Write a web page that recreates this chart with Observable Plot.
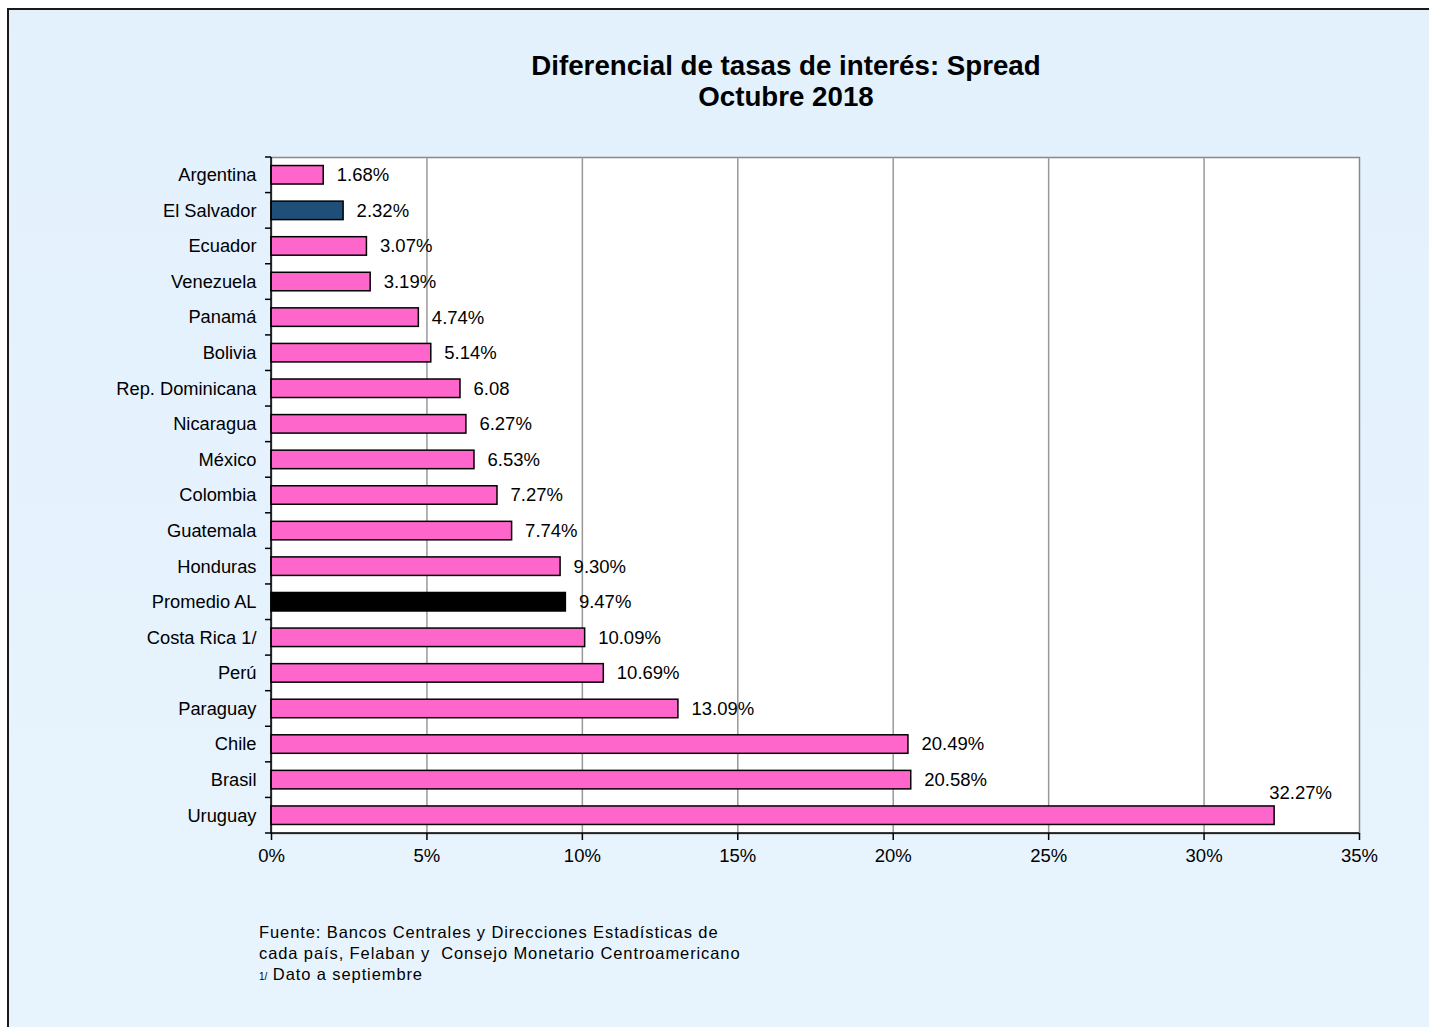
<!DOCTYPE html>
<html>
<head>
<meta charset="utf-8">
<script src="https://cdn.jsdelivr.net/npm/d3@7"></script>
<script src="https://cdn.jsdelivr.net/npm/@observablehq/plot@0.6"></script>
<style>
  html, body { margin: 0; padding: 0; }
  body { width: 1429px; height: 1027px; overflow: hidden; font-family: "Liberation Sans", Arial, sans-serif; }
  #page { position: relative; width: 1429px; height: 1027px; background: #ffffff; }
  #panel { position: absolute; left: 7px; top: 8px; width: 1440px; height: 1040px;
    border-left: 2px solid #1a1a1a; border-top: 2px solid #1a1a1a;
    background: linear-gradient(180deg, #e3f1fd 0%, #e6f3fd 60%, #e8f4fd 100%); }
  #title { position: absolute; left: 436px; width: 700px; top: 50px; text-align: center;
    font-weight: bold; font-size: 27.7px; line-height: 31px; color: #000; }
  #chart { position: absolute; left: 0; top: 140px; }
  #foot { position: absolute; left: 259px; top: 922px; font-size: 16.5px; letter-spacing: 0.9px; line-height: 21px; color: #000; }
  #foot .sm { font-size: 10px; letter-spacing: 0; }
</style>
</head>
<body>
<div id="page">
  <div id="panel"></div>
  <div id="title">Diferencial de tasas de interés: Spread<br>Octubre 2018</div>
  <div id="chart"></div>
  <div id="foot">Fuente: Bancos Centrales y Direcciones Estadísticas de<br>cada país, Felaban y&nbsp; Consejo Monetario Centroamericano<br><span class="sm">1/</span> Dato a septiembre</div>
</div>
<script>
const paises = ["Argentina","El Salvador","Ecuador","Venezuela","Panamá","Bolivia","Rep. Dominicana","Nicaragua","México","Colombia","Guatemala","Honduras","Promedio AL","Costa Rica 1/","Perú","Paraguay","Chile","Brasil","Uruguay"];
const spread = [1.68,2.32,3.07,3.19,4.74,5.14,6.08,6.27,6.53,7.27,7.74,9.30,9.47,10.09,10.69,13.09,20.49,20.58,32.27];
const etiquetas = ["1.68%","2.32%","3.07%","3.19%","4.74%","5.14%","6.08","6.27%","6.53%","7.27%","7.74%","9.30%","9.47%","10.09%","10.69%","13.09%","20.49%","20.58%","32.27%"];
const xTicks = [0,5,10,15,20,25,30,35];

const data = paises.map((p, i) => ({pais: p, valor: spread[i], etiqueta: etiquetas[i]}));
const fillFor = d => d.pais === "El Salvador" ? "#1f4e78" : d.pais === "Promedio AL" ? "#000000" : "#ff66cc";

// category ticks between bands + axis lines
function axisLines(index, scales, values, dims) {
  const y = scales.y, x = scales.x;
  const g = d3.create("svg:g").attr("stroke", "#000").attr("stroke-width", 1.5);
  const x0 = x(0);
  const top = dims.marginTop, bottom = dims.height - dims.marginBottom;
  const right = dims.width - dims.marginRight;
  g.append("line").attr("x1", x0).attr("x2", x0).attr("y1", top).attr("y2", bottom);
  g.append("line").attr("x1", x0).attr("x2", right).attr("y1", bottom).attr("y2", bottom);
  const ys = paises.map(p => y(p));
  const step = ys.length > 1 ? ys[1] - ys[0] : 0;
  const pad = (step - y.bandwidth()) / 2;
  const bounds = ys.map(v => v - pad).concat([ys[ys.length - 1] - pad + step]);
  for (const b of bounds) {
    g.append("line").attr("x1", x0 - 6).attr("x2", x0).attr("y1", b).attr("y2", b);
  }
  return g.node();
}

const chart = Plot.plot({
  width: 1429,
  height: 740,
  marginLeft: 271,
  marginRight: 70,
  marginTop: 17,
  marginBottom: 47,
  style: {background: "transparent", fontFamily: "'Liberation Sans', Arial, sans-serif", fontSize: "18px", color: "#000"},
  x: {domain: [0, 35], label: null},
  y: {domain: paises, paddingInner: 0.48, paddingOuter: 0.24, round: false, label: null},
  marks: [
    Plot.frame({fill: "white", stroke: "#888", strokeWidth: 1.5}),
    Plot.gridX(xTicks.filter(t => t > 0 && t < 35), {stroke: "#999", strokeOpacity: 1, strokeWidth: 1.5}),
    Plot.axisX(xTicks, {tickSize: 7, tickPadding: 8, tickFormat: d => d + "%", fontSize: 18.5, strokeWidth: 1.5, label: null}),
    Plot.axisY({tickSize: 0, tickPadding: 15, fontSize: 18.3, label: null}),
    Plot.barX(data, {x: "valor", y: "pais", fill: fillFor, stroke: "#000", strokeWidth: 1.5}),
    Plot.text(data.filter(d => d.pais !== "Uruguay"), {x: "valor", y: "pais", text: "etiqueta", dx: 13, textAnchor: "start", fontSize: 18.5, fill: "#000"}),
    Plot.text(data.filter(d => d.pais === "Uruguay"), {x: "valor", y: "pais", text: "etiqueta", dx: 26, dy: -23, textAnchor: "middle", fontSize: 18.5, fill: "#000"}),
    axisLines
  ]
});
document.getElementById("chart").appendChild(chart);
</script>
</body>
</html>
